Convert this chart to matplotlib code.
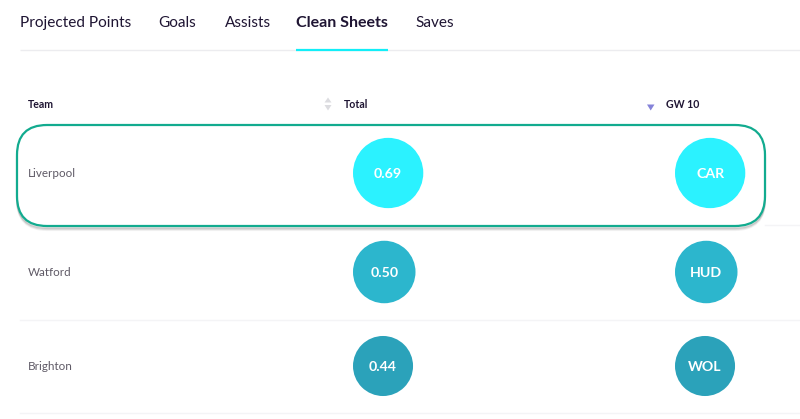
"""Clean sheets table: one highlighted row, value circles scaled by projected value."""
import matplotlib
matplotlib.use("Agg")
import matplotlib.pyplot as plt
from matplotlib.patches import Circle, FancyBboxPatch, Polygon

TABS = ["Projected Points", "Goals", "Assists", "Clean Sheets", "Saves"]
ACTIVE_TAB = "Clean Sheets"
HEADERS = ["Team", "Total", "GW 10"]
TEAMS = ["Liverpool", "Watford", "Brighton"]
TOTALS = [0.69, 0.50, 0.44]
OPPONENTS = ["CAR", "HUD", "WOL"]

TAB_X = [20, 158, 225, 296, 415]
ROW_Y = [173, 272, 366]
COLORS = ["#2bf2ff", "#2cb6cd", "#2ba2ba"]
NAVY = "#1f1533"
GREY = "#5f5a66"
LINE = "#f4f4f6"
FONT = "Lato"


def radius(v):
    return 21 + 20.5 * v


fig = plt.figure(figsize=(8, 4.19), dpi=100)
ax = fig.add_axes([0, 0, 1, 1])
ax.set_xlim(0, 800); ax.set_ylim(419, 0); ax.axis("off")

# tabs
for x, t in zip(TAB_X, TABS):
    on = t == ACTIVE_TAB
    ax.text(x, 23, t, fontsize=11.5 if on else 11.05, family=FONT, color=NAVY, va="center",
            fontweight="bold" if on else "normal")
ax.plot([20, 800], [50.5, 50.5], color="#ececef", lw=1, solid_capstyle="butt")
ax.plot([296, 388], [49.8, 49.8], color="#12eef8", lw=1.6, solid_capstyle="butt")

# table header
for x, t in zip([28, 344, 666], HEADERS):
    ax.text(x, 104.5, t, fontsize=7.6, family=FONT, color=NAVY, va="center", fontweight="bold")
ax.add_patch(Polygon([[324.5, 102.5], [331.5, 102.5], [328, 97.5]], color="#dcdce0", lw=0))
ax.add_patch(Polygon([[324.5, 105], [331.5, 105], [328, 110.5]], color="#dcdce0", lw=0))
ax.add_patch(Polygon([[647, 104.5], [654.5, 104.5], [650.7, 110.5]], color="#8583d9", lw=0))

# row separators
ax.plot([765, 800], [224.5, 224.5], color=LINE, lw=1)
ax.plot([20, 800], [319.5, 319.5], color=LINE, lw=1)
ax.plot([20, 800], [412.5, 412.5], color=LINE, lw=1)

# highlighted row, soft shadow then outline
box = dict(boxstyle="round,pad=0,rounding_size=30")
for off, a in [(4, 0.08), (3, 0.13), (2, 0.20)]:
    ax.add_patch(FancyBboxPatch((17, 125 + off), 748, 101, fc="none", ec="#555555",
                                lw=1.5, alpha=a, **box))
ax.add_patch(FancyBboxPatch((17, 125), 748, 101, fc="white", ec="#12ab8f", lw=1.6, **box))

# rows
for y, team, v, opp, c in zip(ROW_Y, TEAMS, TOTALS, OPPONENTS, COLORS):
    ax.text(28, y + 0.5, team, fontsize=8.4, family=FONT, color=GREY, va="center")
    r = radius(v)
    for left, label, fs in [(353, f"{v:.2f}", 10.2), (675, opp, 10.2)]:
        ax.add_patch(Circle((left + r, y), r, fc=c, ec="none"))
        ax.text(left + r, y + 0.5, label, fontsize=fs, family=FONT, color="white",
                ha="center", va="center", fontweight="bold")

fig.savefig("out.png", dpi=100)
